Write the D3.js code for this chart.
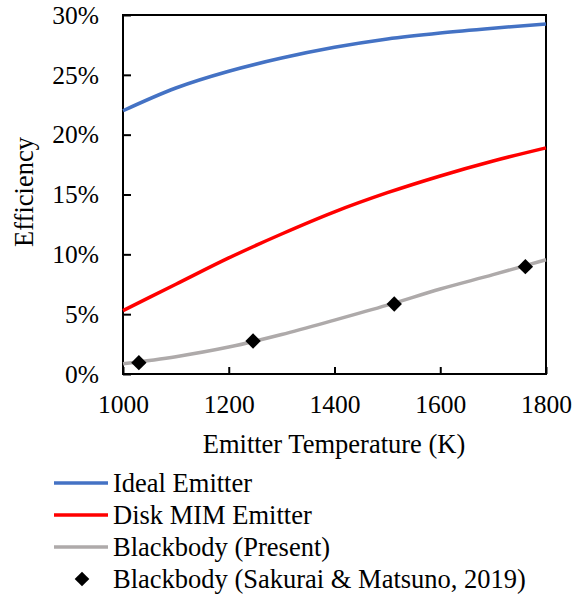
<!DOCTYPE html>
<html lang="en">
<head>
<meta charset="UTF-8">
<title>Efficiency vs Emitter Temperature</title>
<script src="https://d3js.org/d3.v7.min.js"></script>
<style>
    body { margin: 0; background: #fff; }
    svg text { font-family: "Liberation Serif", "Times New Roman", serif; fill: #000; }
</style>
</head>
<body>
<svg id="chart" width="586" height="596"></svg>
<script>
// data
const temps = [1000, 1100, 1200, 1300, 1400, 1500, 1600, 1700, 1800];
const idealEmitter = [22.0, 23.9, 25.3, 26.4, 27.3, 28.0, 28.5, 28.9, 29.25];
const diskMIM = [5.3, 7.5, 9.7, 11.7, 13.55, 15.15, 16.55, 17.8, 18.9];
const blackbodyPresent = [0.85, 1.45, 2.25, 3.3, 4.5, 5.75, 7.1, 8.3, 9.55];
const sakuraiTemps = [1030, 1246, 1513, 1761];
const sakuraiEff = [0.95, 2.76, 5.85, 8.97];
const xTicks = [1000, 1200, 1400, 1600, 1800];
const yTicks = [0, 5, 10, 15, 20, 25, 30];

const svg = d3.select("#chart");
const plot = { left: 123, right: 546, top: 15, bottom: 374 };

const x = d3.scaleLinear().domain([1000, 1800]).range([plot.left, plot.right]);
const y = d3.scaleLinear().domain([0, 30]).range([plot.bottom, plot.top]);

// axes with inward ticks
svg.append("g")
    .attr("transform", `translate(0,${plot.bottom})`)
    .call(d3.axisBottom(x).tickValues(xTicks).tickFormat(d3.format("d")).tickSizeInner(-7).tickSizeOuter(0).tickPadding(21))
    .call(g => g.attr("font-family", null).select(".domain").remove())
    .call(g => g.selectAll("line").attr("stroke-width", 2))
    .call(g => g.selectAll("text").attr("font-size", 25.5));

svg.append("g")
    .attr("transform", `translate(${plot.left},0)`)
    .call(d3.axisLeft(y).tickValues(yTicks).tickFormat(d => d + "%").tickSizeInner(-8).tickSizeOuter(0).tickPadding(24))
    .call(g => g.attr("font-family", null).select(".domain").remove())
    .call(g => g.selectAll("line").attr("stroke-width", 2))
    .call(g => g.selectAll("text").attr("font-size", 25.5));

// plot frame
svg.append("rect")
    .attr("x", plot.left).attr("y", plot.top)
    .attr("width", plot.right - plot.left).attr("height", plot.bottom - plot.top)
    .attr("fill", "none").attr("stroke", "#000").attr("stroke-width", 2);

const line = d3.line().x((d, i) => x(temps[i])).y(d => y(d)).curve(d3.curveMonotoneX);

const series = [
    { name: "Ideal Emitter", values: idealEmitter, color: "#4472c4" },
    { name: "Disk MIM Emitter", values: diskMIM, color: "#ff0000" },
    { name: "Blackbody (Present)", values: blackbodyPresent, color: "#aeaaaa" }
];

series.forEach(s => {
    svg.append("path")
        .datum(s.values)
        .attr("d", line)
        .attr("fill", "none")
        .attr("stroke", s.color)
        .attr("stroke-width", 3.5);
});

// Sakurai & Matsuno markers
const diamond = d3.symbol().type(d3.symbolDiamond2).size(150);
svg.selectAll(".marker")
    .data(sakuraiTemps)
    .enter()
    .append("path")
    .attr("class", "marker")
    .attr("d", diamond)
    .attr("transform", (d, i) => `translate(${x(d)},${y(sakuraiEff[i])})`)
    .attr("fill", "#000");

// axis titles
svg.append("text")
    .attr("x", 334).attr("y", 453)
    .attr("text-anchor", "middle")
    .attr("font-size", 26.5)
    .text("Emitter Temperature (K)");

svg.append("text")
    .attr("transform", "translate(33,192) rotate(-90)")
    .attr("text-anchor", "middle")
    .attr("font-size", 26.5)
    .text("Efficiency");

// legend
const legendRows = [
    { label: "Ideal Emitter", color: "#4472c4", type: "line" },
    { label: "Disk MIM Emitter", color: "#ff0000", type: "line" },
    { label: "Blackbody (Present)", color: "#aeaaaa", type: "line" },
    { label: "Blackbody (Sakurai & Matsuno, 2019)", color: "#000", type: "marker" }
];

const legend = svg.selectAll(".legend")
    .data(legendRows)
    .enter()
    .append("g")
    .attr("transform", (d, i) => `translate(0,${484 + i * 32})`);

legend.filter(d => d.type === "line")
    .append("line")
    .attr("x1", 54).attr("x2", 108)
    .attr("y1", -1).attr("y2", -1)
    .attr("stroke", d => d.color)
    .attr("stroke-width", 3.5);

legend.filter(d => d.type === "marker")
    .append("path")
    .attr("d", d3.symbol().type(d3.symbolDiamond2).size(136))
    .attr("transform", "translate(82,-1)")
    .attr("fill", "#000");

legend.append("text")
    .attr("x", 113).attr("y", 8)
    .attr("font-size", 26.5)
    .text(d => d.label);
</script>
</body>
</html>
